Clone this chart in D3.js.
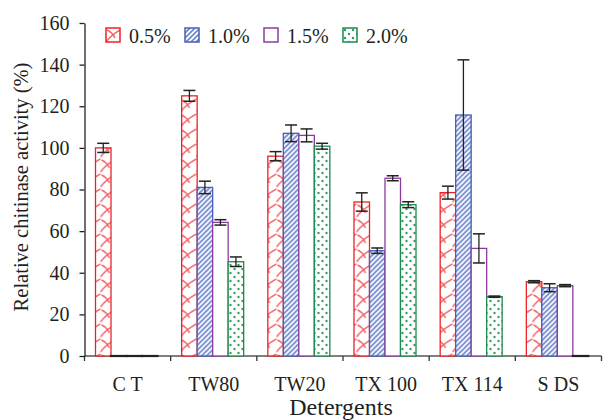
<!DOCTYPE html>
<html>
<head>
<meta charset="utf-8">
<script src="https://cdn.jsdelivr.net/npm/d3@7"></script>
<style>
  body { margin: 0; background: #fff; }
  svg { display: block; font-family: "Liberation Serif", "Times New Roman", serif; }
</style>
</head>
<body>
<div id="chart"></div>
<script>
// data
var categories = ["C T", "TW80", "TW20", "TX 100", "TX 114", "S DS"];
var seriesNames = ["0.5%", "1.0%", "1.5%", "2.0%"];
var val05 = [100, 125, 96, 74, 78.5, 35.7];
var err05 = [2.2, 2.6, 2.2, 4.4, 3.1, 0.5];
var val10 = [0, 81, 107, 50.6, 115.8, 32.8];
var err10 = [0, 3, 4, 1.3, 26.5, 1.9];
var val15 = [0, 64.2, 106, 85.4, 51.7, 33.8];
var err15 = [0, 1.3, 3.1, 1.2, 7, 0.5];
var val20 = [0, 45.3, 100.8, 72.7, 28.5, 0];
var err20 = [0, 2.3, 1.4, 1.4, 0.3, 0];
var yTicks = [0, 20, 40, 60, 80, 100, 120, 140, 160];

var colors = ["#ec2227", "#4460b8", "#8c3b9e", "#1d8a4a"];
var fills = ["url(#pRed)", "url(#pBlue)", "#fff", "url(#pGreen)"];

var W = 603, H = 420;
var margin = {top: 23, right: 1.5, bottom: 64, left: 84.5};
var width = W - margin.left - margin.right, height = H - margin.top - margin.bottom;

var svg = d3.select("#chart").append("svg").attr("width", W).attr("height", H);
var defs = svg.append("defs");

// red scallop pattern
var pr = defs.append("pattern").attr("id", "pRed").attr("patternUnits", "userSpaceOnUse")
    .attr("width", 16).attr("height", 15);
pr.append("rect").attr("width", 16).attr("height", 15).attr("fill", "#fff");
pr.append("path").attr("d", "M0,14 Q5,7 16,1 M1,2 Q6,4 9,10")
    .attr("fill", "none").attr("stroke", "#f26268").attr("stroke-width", 1.5);

// blue diagonal hatch
var pb = defs.append("pattern").attr("id", "pBlue").attr("patternUnits", "userSpaceOnUse")
    .attr("width", 5).attr("height", 5);
pb.append("rect").attr("width", 5).attr("height", 5).attr("fill", "#fff");
pb.append("path").attr("d", "M-1,6 L6,-1 M-1,1 L1,-1 M4,6 L6,4")
    .attr("stroke", "#6d83cc").attr("stroke-width", 1.6);

// green dots
var pg = defs.append("pattern").attr("id", "pGreen").attr("patternUnits", "userSpaceOnUse")
    .attr("width", 8).attr("height", 8);
pg.append("rect").attr("width", 8).attr("height", 8).attr("fill", "#fff");
pg.append("circle").attr("cx", 2).attr("cy", 2).attr("r", 1.2).attr("fill", "#2f9a5c");
pg.append("circle").attr("cx", 6).attr("cy", 6).attr("r", 1.2).attr("fill", "#2f9a5c");

var g = svg.append("g").attr("transform", "translate(" + margin.left + "," + margin.top + ")");

var x = d3.scaleBand().domain(categories).range([0, width]).padding(0);
var xs = d3.scaleBand().domain(seriesNames).range([11, 73]).padding(0);
var y = d3.scaleLinear().domain([0, 160]).range([height, 0]);

var series = [
  {name: seriesNames[0], vals: val05, errs: err05},
  {name: seriesNames[1], vals: val10, errs: err10},
  {name: seriesNames[2], vals: val15, errs: err15},
  {name: seriesNames[3], vals: val20, errs: err20}
];

var rows = [];
series.forEach(function(s, si) {
  categories.forEach(function(c, ci) {
    rows.push({cat: c, si: si, name: s.name, v: s.vals[ci], e: s.errs[ci]});
  });
});

// x axis: baseline and ticks at band edges (drawn first, bars sit on it)
var xa = g.append("g").attr("transform", "translate(0," + height + ")");
xa.append("line").attr("x1", 0).attr("x2", width).attr("stroke", "#555").attr("stroke-width", 1.3);
var edges = categories.map(function(c) { return x(c); }).concat([width]);
xa.selectAll("line.tk").data(edges).enter().append("line").attr("class", "tk")
  .attr("x1", function(d) { return d; }).attr("x2", function(d) { return d; })
  .attr("y1", 0).attr("y2", 5).attr("stroke", "#333").attr("stroke-width", 1.3);
xa.selectAll("text").data(categories).enter().append("text")
  .attr("x", function(d) { return x(d) + x.bandwidth() / 2; })
  .attr("y", 35).attr("text-anchor", "middle")
  .attr("font-size", 20).attr("fill", "#231f20").text(function(d) { return d; });

// bars (zero values keep a hairline height so their outline still shows)
g.append("g").selectAll("rect").data(rows).enter().append("rect")
  .attr("x", function(d) { return x(d.cat) + xs(d.name); })
  .attr("y", function(d) { return y(d.v); })
  .attr("width", xs.bandwidth())
  .attr("height", function(d) { return Math.max(height - y(d.v), 0.01); })
  .attr("fill", function(d) { return fills[d.si]; })
  .attr("stroke", function(d) { return d.v === 0 ? "#222" : colors[d.si]; })
  .attr("stroke-width", function(d) { return d.v === 0 ? 2.2 : 1.3; });

// error bars
var eb = g.append("g").selectAll("g").data(rows.filter(function(d) { return d.e > 0; }))
  .enter().append("g")
  .attr("transform", function(d) { return "translate(" + (x(d.cat) + xs(d.name) + xs.bandwidth() / 2) + ",0)"; });
eb.append("line").attr("y1", function(d) { return y(d.v + d.e); }).attr("y2", function(d) { return y(d.v - d.e); })
  .attr("stroke", "#222").attr("stroke-width", 1.3);
eb.append("line").attr("x1", -6).attr("x2", 6)
  .attr("y1", function(d) { return y(d.v + d.e); }).attr("y2", function(d) { return y(d.v + d.e); })
  .attr("stroke", "#222").attr("stroke-width", 1.5);
eb.append("line").attr("x1", -6).attr("x2", 6)
  .attr("y1", function(d) { return y(d.v - d.e); }).attr("y2", function(d) { return y(d.v - d.e); })
  .attr("stroke", "#222").attr("stroke-width", 1.5);

// y axis
var ya = g.append("g").call(d3.axisLeft(y).tickValues(yTicks).tickSize(5).tickPadding(10).tickSizeOuter(0));
ya.select(".domain").attr("stroke", "#222").attr("stroke-width", 1.3);
ya.selectAll(".tick line").attr("stroke", "#222").attr("stroke-width", 1.3);
ya.selectAll("text").attr("font-size", 20).attr("fill", "#231f20")
  .attr("font-family", "Liberation Serif");

// axis titles
svg.append("text").attr("x", margin.left + width / 2 - 2).attr("y", 415)
  .attr("text-anchor", "middle").attr("font-size", 24).attr("fill", "#231f20").text("Detergents");
svg.append("text").attr("transform", "translate(28," + 187 + ") rotate(-90)")
  .attr("text-anchor", "middle").attr("font-size", 20.5).attr("fill", "#231f20")
  .text("Relative chitinase activity (%)");

// legend
var lx = d3.scaleBand().domain(seriesNames).range([106, 422]);
var lg = svg.append("g").selectAll("g").data(seriesNames).enter().append("g")
  .attr("transform", function(d) { return "translate(" + lx(d) + ",28)"; });
lg.append("rect").attr("width", 14).attr("height", 14)
  .attr("fill", function(d, i) { return fills[i]; })
  .attr("stroke", function(d, i) { return colors[i]; }).attr("stroke-width", 1.5);
lg.append("text").attr("x", 23).attr("y", 15).attr("font-size", 20).attr("fill", "#231f20")
  .text(function(d) { return d; });
</script>
</body>
</html>
